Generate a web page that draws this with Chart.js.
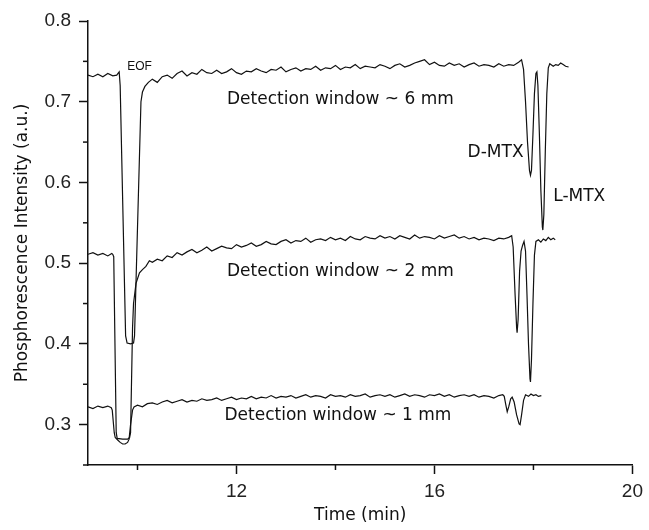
<!DOCTYPE html>
<html>
<head>
<meta charset="utf-8">
<script src="https://cdn.jsdelivr.net/npm/chart.js@4.4.1/dist/chart.umd.min.js"></script>
<style>
  html, body { margin: 0; padding: 0; background: #fff; }
  #chartBox { width: 649px; height: 530px; }
</style>
</head>
<body>
<div id="chartBox"><canvas id="chart1" width="649" height="530"></canvas></div>
<script>
// [time (min), phosphorescence intensity (a.u.)]
const trace6mm = [
    [9.0,0.733],[9.1,0.731],[9.2,0.734],[9.3,0.731],[9.4,0.735],[9.5,0.732],[9.58,0.733],[9.63,0.737],
    [9.65,0.72],[9.76,0.41],[9.79,0.401],[9.86,0.400],[9.92,0.401],[9.94,0.41],[10.07,0.70],[10.1,0.712],[10.15,0.719],[10.22,0.724],
    [10.3,0.728],[10.4,0.724],[10.5,0.731],[10.6,0.733],[10.7,0.729],[10.8,0.735],[10.9,0.738],[11.0,0.732],[11.1,0.736],[11.2,0.734],
    [11.3,0.740],[11.4,0.736],[11.5,0.735],[11.6,0.739],[11.7,0.735],[11.8,0.737],[11.9,0.741],[12.0,0.736],[12.1,0.734],[12.2,0.738],
    [12.3,0.737],[12.4,0.741],[12.5,0.738],[12.6,0.736],[12.7,0.740],[12.8,0.739],[12.9,0.743],[13.0,0.737],[13.1,0.740],[13.2,0.742],
    [13.3,0.738],[13.4,0.741],[13.5,0.740],[13.6,0.744],[13.7,0.739],[13.8,0.742],[13.9,0.741],[14.0,0.745],[14.1,0.740],[14.2,0.743],
    [14.3,0.742],[14.4,0.746],[14.5,0.741],[14.6,0.744],[14.7,0.743],[14.8,0.742],[14.9,0.746],[15.0,0.744],[15.1,0.741],[15.2,0.745],
    [15.3,0.747],[15.4,0.743],[15.5,0.745],[15.6,0.748],[15.7,0.750],[15.8,0.752],[15.9,0.746],[16.0,0.749],[16.1,0.745],[16.2,0.744],
    [16.3,0.748],[16.4,0.745],[16.5,0.747],[16.6,0.743],[16.7,0.746],[16.8,0.748],[16.9,0.744],[17.0,0.746],[17.1,0.745],[17.2,0.743],
    [17.3,0.747],[17.4,0.744],[17.5,0.746],[17.6,0.745],[17.7,0.749],[17.76,0.752],
    [17.80,0.74],[17.84,0.70],[17.88,0.65],[17.92,0.615],[17.94,0.609],[17.96,0.615],[17.99,0.66],[18.02,0.71],[18.05,0.735],[18.07,0.737],
    [18.09,0.72],[18.12,0.66],[18.15,0.59],[18.18,0.545],[18.19,0.541],[18.21,0.56],[18.24,0.64],[18.27,0.71],[18.30,0.742],[18.33,0.747],
    [18.4,0.744],[18.45,0.746],[18.5,0.745],[18.55,0.748],[18.6,0.746],[18.65,0.744],[18.71,0.743]
];

const trace2mm = [
    [9.0,0.511],[9.1,0.513],[9.2,0.510],[9.3,0.512],[9.4,0.509],[9.48,0.512],[9.5,0.511],
    [9.52,0.508],[9.57,0.29],[9.59,0.283],[9.7,0.282],[9.8,0.282],[9.84,0.284],
    [9.86,0.29],[9.90,0.42],[9.92,0.45],[9.97,0.475],[10.04,0.488],
    [10.1,0.492],[10.17,0.496],[10.24,0.503],[10.3,0.501],[10.4,0.505],[10.5,0.503],[10.6,0.509],[10.7,0.507],[10.8,0.513],[10.9,0.510],
    [11.0,0.514],[11.1,0.517],[11.2,0.513],[11.3,0.516],[11.4,0.520],[11.5,0.515],[11.6,0.518],[11.7,0.521],[11.8,0.519],[11.9,0.518],
    [12.0,0.523],[12.1,0.520],[12.2,0.522],[12.3,0.525],[12.4,0.521],[12.5,0.523],[12.6,0.527],[12.7,0.524],[12.8,0.523],[12.9,0.527],
    [13.0,0.529],[13.1,0.525],[13.2,0.528],[13.3,0.527],[13.4,0.531],[13.5,0.526],[13.6,0.529],[13.7,0.530],[13.8,0.528],[13.9,0.532],
    [14.0,0.529],[14.1,0.531],[14.2,0.528],[14.3,0.533],[14.4,0.530],[14.5,0.529],[14.6,0.533],[14.7,0.531],[14.8,0.530],[14.9,0.534],
    [15.0,0.531],[15.1,0.533],[15.2,0.530],[15.3,0.534],[15.4,0.532],[15.5,0.530],[15.6,0.535],[15.7,0.531],[15.8,0.533],[15.9,0.532],
    [16.0,0.530],[16.1,0.534],[16.2,0.531],[16.3,0.533],[16.4,0.535],[16.5,0.531],[16.6,0.533],[16.7,0.530],[16.8,0.532],[16.9,0.529],
    [17.0,0.531],[17.1,0.530],[17.2,0.528],[17.3,0.531],[17.4,0.530],[17.5,0.532],[17.56,0.534],
    [17.59,0.52],[17.63,0.46],[17.66,0.42],[17.67,0.414],[17.69,0.43],[17.72,0.49],[17.75,0.515],[17.78,0.522],[17.81,0.527],
    [17.84,0.515],[17.87,0.46],[17.90,0.40],[17.93,0.357],[17.94,0.353],[17.96,0.38],[17.99,0.45],[18.02,0.51],[18.05,0.527],
    [18.1,0.529],[18.15,0.526],[18.2,0.530],[18.25,0.528],[18.3,0.532],[18.35,0.529],[18.4,0.531],[18.44,0.529]
];

const trace1mm = [
    [9.0,0.322],[9.1,0.320],[9.2,0.323],[9.3,0.321],[9.4,0.323],[9.47,0.321],
    [9.49,0.318],[9.53,0.29],[9.55,0.284],[9.6,0.281],[9.65,0.278],[9.7,0.276],[9.75,0.276],[9.8,0.278],[9.83,0.282],[9.86,0.30],[9.9,0.318],[9.93,0.322],
    [10.0,0.324],[10.1,0.322],[10.2,0.326],[10.3,0.327],[10.4,0.325],[10.5,0.328],[10.6,0.330],[10.7,0.327],[10.8,0.329],[10.9,0.331],
    [11.0,0.328],[11.1,0.330],[11.2,0.329],[11.3,0.332],[11.4,0.330],[11.5,0.331],[11.6,0.333],[11.7,0.330],[11.8,0.332],[11.9,0.334],
    [12.0,0.331],[12.1,0.333],[12.2,0.332],[12.3,0.335],[12.4,0.332],[12.5,0.334],[12.6,0.333],[12.7,0.336],[12.8,0.333],[12.9,0.335],
    [13.0,0.334],[13.1,0.336],[13.2,0.333],[13.3,0.335],[13.4,0.337],[13.5,0.334],[13.6,0.336],[13.7,0.335],[13.8,0.333],[13.9,0.337],
    [14.0,0.335],[14.1,0.336],[14.2,0.334],[14.3,0.337],[14.4,0.335],[14.5,0.336],[14.6,0.338],[14.7,0.334],[14.8,0.336],[14.9,0.337],
    [15.0,0.335],[15.1,0.337],[15.2,0.334],[15.3,0.336],[15.4,0.338],[15.5,0.335],[15.6,0.337],[15.7,0.336],[15.8,0.334],[15.9,0.337],
    [16.0,0.336],[16.1,0.338],[16.2,0.335],[16.3,0.337],[16.4,0.334],[16.5,0.336],[16.6,0.337],[16.7,0.335],[16.8,0.337],[16.9,0.334],
    [17.0,0.336],[17.1,0.335],[17.2,0.333],[17.3,0.336],[17.38,0.337],
    [17.41,0.335],[17.44,0.325],[17.47,0.316],[17.50,0.322],[17.54,0.332],[17.57,0.334],[17.61,0.328],[17.66,0.312],[17.71,0.301],[17.73,0.300],
    [17.76,0.312],[17.80,0.330],[17.84,0.337],
    [17.9,0.335],[17.95,0.338],[18.0,0.336],[18.05,0.337],[18.1,0.335],[18.16,0.336]
];

// tick values (minor ticks carry no label)
const xMajorTicks = [12, 16, 20];
const xMinorTicks = [10, 14, 18];
const yMajorTicks = [0.3, 0.4, 0.5, 0.6, 0.7, 0.8];
const yMinorTicks = [0.25, 0.35, 0.45, 0.55, 0.65, 0.75];

// annotations, anchored in data units
const notes = [
    { text: 'EOF', t: 10.04, v: 0.743, align: 'center', small: true },
    { text: 'Detection window ~ 6 mm', t: 14.1, v: 0.703, align: 'center' },
    { text: 'Detection window ~ 2 mm', t: 14.1, v: 0.490, align: 'center' },
    { text: 'Detection window ~ 1 mm', t: 14.05, v: 0.311, align: 'center' },
    { text: 'D-MTX', t: 17.8, v: 0.637, align: 'right' },
    { text: 'L-MTX', t: 18.4, v: 0.582, align: 'left' }
];

var handFont = '"Comic Sans MS", "DejaVu Sans", sans-serif';
var tickFont = { family: '"Liberation Sans", Arial, sans-serif', size: 19 };
var ink = '#111';

function toPoints(trace) {
    return trace.map(function (p) { return { x: p[0], y: p[1] }; });
}

function traceDataset(trace) {
    return {
        data: toPoints(trace),
        borderColor: ink,
        borderWidth: 1.2,
        pointRadius: 0,
        tension: 0,
        fill: false
    };
}

// draws the short minor ticks and the text notes
var extrasPlugin = {
    id: 'extras',
    afterDraw: function (chart) {
        var ctx = chart.ctx;
        var xs = chart.scales.x;
        var ys = chart.scales.y;
        ctx.save();
        ctx.strokeStyle = ink;
        ctx.lineWidth = 1.5;
        xMinorTicks.forEach(function (v) {
            var px = xs.getPixelForValue(v);
            ctx.beginPath();
            ctx.moveTo(px, ys.bottom);
            ctx.lineTo(px, ys.bottom + 5);
            ctx.stroke();
        });
        yMinorTicks.forEach(function (v) {
            var py = ys.getPixelForValue(v);
            ctx.beginPath();
            ctx.moveTo(xs.left, py);
            ctx.lineTo(xs.left - 5, py);
            ctx.stroke();
        });

        ctx.fillStyle = ink;
        ctx.textBaseline = 'middle';
        notes.forEach(function (n) {
            ctx.font = n.small ? '12px "Liberation Sans", Arial, sans-serif' : '17px ' + handFont;
            ctx.textAlign = n.align;
            ctx.fillText(n.text, xs.getPixelForValue(n.t), ys.getPixelForValue(n.v));
        });
        ctx.restore();
    }
};

var ctx = document.getElementById('chart1').getContext('2d');
var myChart = new Chart(ctx, {
    type: 'line',
    data: {
        datasets: [traceDataset(trace6mm), traceDataset(trace2mm), traceDataset(trace1mm)]
    },
    options: {
        responsive: false,
        animation: false,
        devicePixelRatio: 1,
        layout: { padding: { top: 21, right: 11, left: 8, bottom: 0 } },
        plugins: {
            legend: { display: false },
            tooltip: { enabled: false }
        },
        scales: {
            x: {
                type: 'linear',
                min: 9,
                max: 20,
                afterBuildTicks: function (scale) {
                    scale.ticks = xMajorTicks.map(function (v) { return { value: v }; });
                },
                afterFit: function (scale) { scale.height = 65; },
                grid: { drawOnChartArea: false, tickLength: 9, tickColor: ink, tickWidth: 1.5 },
                border: { color: ink, width: 1.5 },
                ticks: { font: tickFont, color: '#222', padding: 6, autoSkip: false, maxRotation: 0 },
                title: { display: true, text: 'Time (min)', color: ink, font: { family: handFont, size: 17 } }
            },
            y: {
                type: 'linear',
                min: 0.25,
                max: 0.8,
                afterBuildTicks: function (scale) {
                    scale.ticks = yMajorTicks.map(function (v) { return { value: v }; });
                },
                afterFit: function (scale) { scale.width = 80; },
                grid: { drawOnChartArea: false, tickLength: 9, tickColor: ink, tickWidth: 1.5 },
                border: { color: ink, width: 1.5 },
                ticks: {
                    font: tickFont,
                    color: '#222',
                    padding: 8,
                    autoSkip: false,
                    callback: function (value) { return value.toFixed(1); }
                },
                title: { display: true, text: 'Phosphorescence Intensity (a.u.)', color: ink, font: { family: handFont, size: 17 } }
            }
        }
    },
    plugins: [extrasPlugin]
});
</script>
</body>
</html>
